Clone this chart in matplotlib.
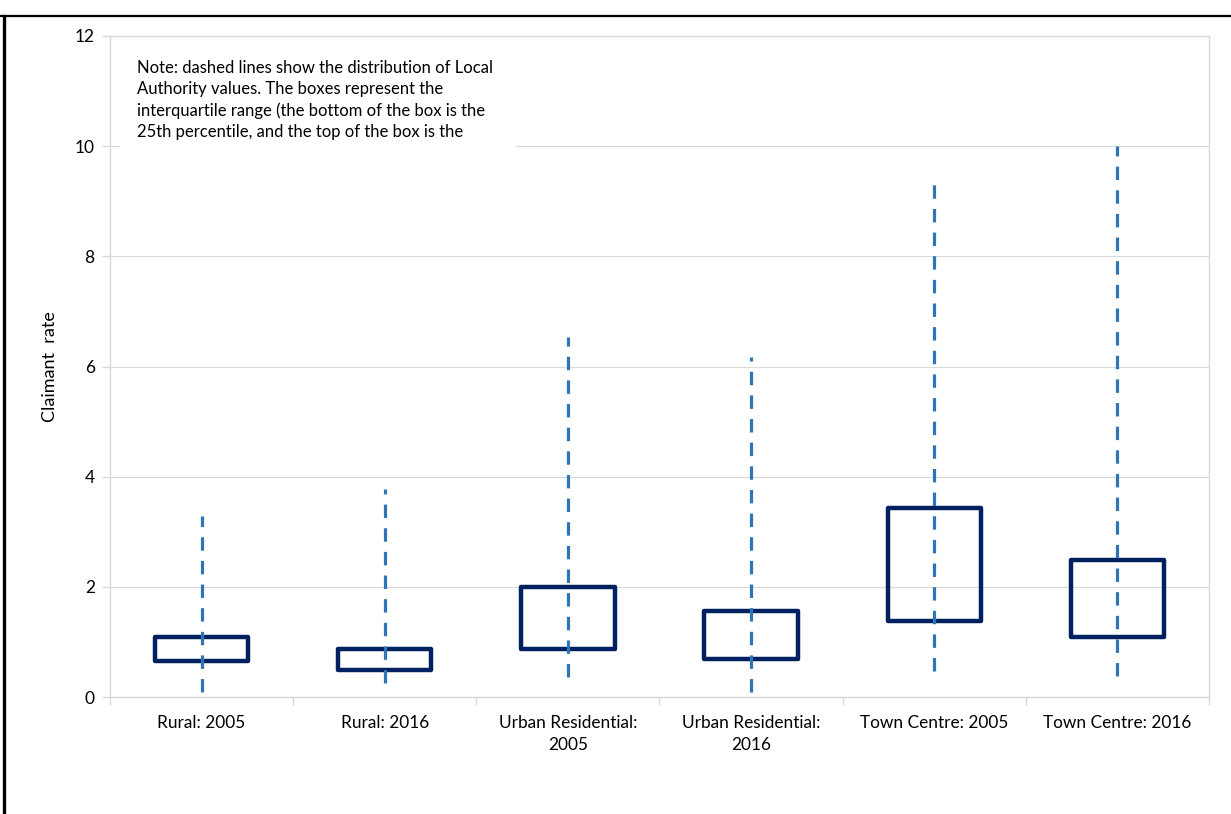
import matplotlib
matplotlib.use("Agg")
import matplotlib.pyplot as plt
from matplotlib.lines import Line2D
from matplotlib.patches import Rectangle

# ---- data ----
categories = ["Rural: 2005", "Rural: 2016", "Urban Residential:\n2005",
              "Urban Residential:\n2016", "Town Centre: 2005", "Town Centre: 2016"]
whisker_low = [0.09, 0.25, 0.36, 0.09, 0.47, 0.38]
whisker_high = [3.29, 3.78, 6.54, 6.17, 9.42, 10.0]
q1 = [0.65, 0.49, 0.87, 0.69, 1.38, 1.09]
q3 = [1.09, 0.87, 2.00, 1.56, 3.43, 2.49]
yticks = [0, 2, 4, 6, 8, 10, 12]
note = ("Note: dashed lines show the distribution of Local\n"
        "Authority values. The boxes represent the\n"
        "interquartile range (the bottom of the box is the\n"
        "25th percentile, and the top of the box is the")

plt.rcParams['font.family'] = ['Lato', 'DejaVu Sans']

fig = plt.figure(figsize=(12.31, 8.14), dpi=100)
ax = fig.add_axes([110/1231, 1-697/814, (1209-110)/1231, (697-36)/814])

x = list(range(1, len(categories) + 1))
navy = "#002060"
blue = "#2E75B6"
grid = "#D9D9D9"

ax.vlines(x, whisker_low, whisker_high, colors=blue, linewidth=2.3,
          linestyles=(0, (4.2, 3.2)), zorder=4)
heights = [b - a for a, b in zip(q1, q3)]
ax.bar(x, heights, bottom=q1, width=0.51, fill=False, edgecolor=navy,
       linewidth=3.2, joinstyle="round", zorder=3)

ax.set_xlim(0.5, 6.5)
ax.set_ylim(0, 12)
ax.set_yticks(yticks)
ax.set_yticklabels([str(t) for t in yticks], fontsize=12.5)
ax.set_xticks(x)
ax.set_xticklabels(categories, fontsize=12.4, linespacing=1.45)
ax.set_xticks([0.5 + i for i in range(7)], minor=True)
ax.tick_params(axis="x", which="major", length=0, pad=13)
ax.tick_params(axis="x", which="minor", length=6, color=grid, width=1)
ax.tick_params(axis="y", length=6, color=grid, width=1, pad=5)
ax.yaxis.grid(True, color=grid, linewidth=0.8)
ax.set_axisbelow(True)
for s in ax.spines.values():
    s.set_color(grid)
    s.set_linewidth(1)
ax.set_ylabel("Claimant  rate", fontsize=13, labelpad=12)

# note box
ax.add_patch(Rectangle((0.009, 0.83), 0.36, 0.15, transform=ax.transAxes,
                       facecolor="white", edgecolor="none", zorder=5))
ax.text(27/1099, (697-60)/661, note, transform=ax.transAxes, fontsize=12,
        va="top", ha="left", linespacing=1.4, zorder=6)

# outer frame lines
fig.add_artist(Line2D([0, 1], [1-16/814, 1-16/814], color="black", linewidth=1.6))
fig.add_artist(Line2D([4/1231, 4/1231], [0, 1-16/814], color="black", linewidth=2.4))

fig.savefig("out.png", dpi=100)
